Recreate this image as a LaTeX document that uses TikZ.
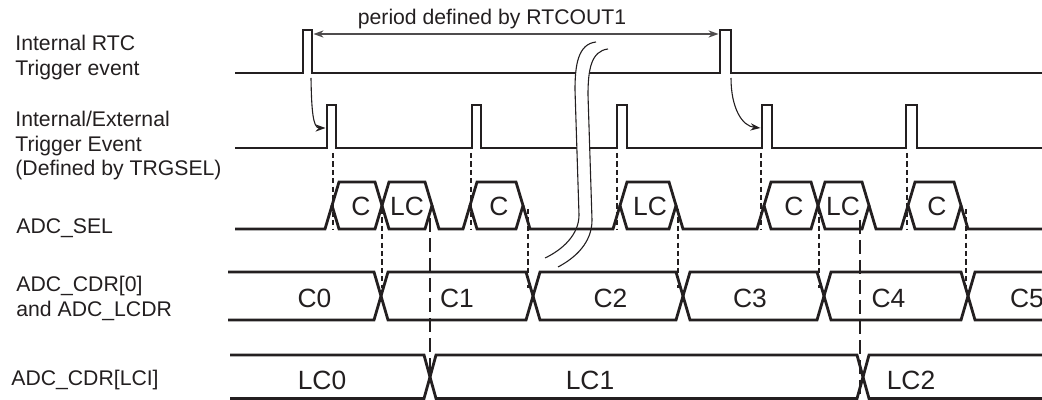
\documentclass[tikz,border=0pt]{standalone}
\usepackage{fontspec}
\setmainfont{Liberation Sans}
\usetikzlibrary{arrows.meta}
\definecolor{ink}{RGB}{35,31,32}

\begin{document}
\begin{tikzpicture}[
  x=0.5pt, y=-0.5pt,
  font=\fontsize{10.6}{12.3}\selectfont, text=ink,
  wave/.style={draw=ink, line width=1.4pt, line join=miter},
  guide/.style={draw=ink, line width=0.6pt, dash pattern=on 2.6pt off 1.6pt},
  longguide/.style={draw=ink, line width=0.6pt, dash pattern=on 7pt off 3pt},
  cause/.style={draw=ink, line width=0.55pt, -{Stealth[length=5pt, width=3.6pt]}},
  periodarrow/.style={draw=ink!80, line width=0.6pt,
    {Stealth[length=5pt, width=3.6pt]}-{Stealth[length=5pt, width=3.6pt]}},
  breakline/.style={draw=ink, line width=0.55pt},
  sig/.style={anchor=base west, align=left, inner sep=0pt},
  val/.style={font=\fontsize{13.2}{15}\selectfont, inner sep=0pt}
]
\useasboundingbox (0,0) rectangle (1042,400);

% --- signal names (base = last line) ---
\node[sig] (lblrtc) at (15,75.6)  {Internal RTC\\Trigger event};
\node[sig] (lbltrg) at (15,175.8) {Internal/External\\Trigger Event\\(Defined by TRGSEL)};
\node[sig] (lblsel) at (16,233.3) {ADC\_SEL};
\node[sig] (lblcdr) at (16,316.5) {ADC\_CDR[0]\\and ADC\_LCDR};
\node[sig] (lbllci) at (11,385)   {ADC\_CDR[LCI]};

% --- RTC trigger and trigger event pulses ---
\draw[wave] (235,73) -- (303,73) -- (303,30) -- (312,30) -- (312,73) -- (720,73)
  -- (720,30) -- (731,30) -- (731,73) -- (1042,73);
\draw[wave] (235,148) -- (327,148) -- (327,105) -- (336,105) -- (336,148)
  -- (472,148) -- (472,105) -- (481,105) -- (481,148)
  -- (617,148) -- (617,105) -- (627,105) -- (627,148)
  -- (762,148) -- (762,105) -- (772,105) -- (772,148)
  -- (906,148) -- (906,105) -- (917,105) -- (917,148) -- (1042,148);

% period between the two RTC pulses
\coordinate (rtcA) at (313.5,34);
\coordinate (rtcB) at (718.5,34);
\draw[periodarrow] (rtcA) -- (rtcB);
\node[anchor=base, inner sep=0pt] (per) at (492,25) {period defined by RTCOUT1};

% RTC pulse starts the next trigger
\coordinate (rtcfall1) at (311,78);
\coordinate (trgrise1) at (325.5,128);
\coordinate (rtcfall2) at (731,78);
\coordinate (trgrise2) at (760.5,128);
\draw[cause] (rtcfall1) .. controls (311.5,110) and (313,128) .. (trgrise1);
\draw[cause] (rtcfall2) .. controls (731,108) and (742,126) .. (trgrise2);

% --- time break ---
\fill[white] (596,42) .. controls (578,44) and (575,65) .. (575,90) -- (579,215)
  .. controls (579,235) and (562,250) .. (545,258) -- (558,267)
  .. controls (575,258) and (592,243) .. (592,220) -- (588,95)
  .. controls (588,70) and (591,51) .. (608,49) -- cycle;
\draw[breakline] (596,42) .. controls (578,44) and (575,65) .. (575,90) -- (579,215)
  .. controls (579,235) and (562,250) .. (545,258);
\draw[breakline] (608,49) .. controls (591,51) and (588,70) .. (588,95) -- (592,220)
  .. controls (592,243) and (575,258) .. (558,267);

% --- ADC_SEL ---
\draw[wave] (235,229) -- (325,229) -- (332,205.5);
\draw[wave] (332,205.5) -- (339,182) -- (375,182) -- (382,205.5) -- (375,229) -- (339,229) -- cycle;
\draw[wave] (382,205.5) -- (389,182) -- (425,182) -- (432,205.5) -- (425,229) -- (389,229) -- cycle;
\draw[wave] (432,205.5) -- (439,229) -- (463,229) -- (470,205.5);
\draw[wave] (470,205.5) -- (477,182) -- (516,182) -- (523,205.5) -- (516,229) -- (477,229) -- cycle;
\draw[wave] (523,205.5) -- (530,229) -- (613,229) -- (620,205.5);
\draw[wave] (620,205.5) -- (627,182) -- (669,182) -- (676,205.5) -- (669,229) -- (627,229) -- cycle;
\draw[wave] (676,205.5) -- (683,229) -- (757,229) -- (764,205.5);
\draw[wave] (764,205.5) -- (771,182) -- (811,182) -- (818,205.5) -- (811,229) -- (771,229) -- cycle;
\draw[wave] (818,205.5) -- (825,182) -- (862,182) -- (869,205.5) -- (862,229) -- (825,229) -- cycle;
\draw[wave] (869,205.5) -- (876,229) -- (901,229) -- (908,205.5);
\draw[wave] (908,205.5) -- (915,182) -- (954,182) -- (961,205.5) -- (954,229) -- (915,229) -- cycle;
\draw[wave] (961,205.5) -- (968,229) -- (1042,229);

\node[val] (sel1) at (361,206) {C};
\node[val] (sel2) at (407,206) {LC};
\node[val] (sel3) at (499,206) {C};
\node[val] (sel4) at (650,206) {LC};
\node[val] (sel5) at (794,206) {C};
\node[val] (sel6) at (843,206) {LC};
\node[val] (sel7) at (937,206) {C};

% --- ADC_CDR[0] and ADC_LCDR ---
\draw[wave] (228,272) -- (374,272) -- (381,296) -- (374,320) -- (228,320);
\draw[wave] (381,296) -- (388,272) -- (526,272) -- (533,296) -- (526,320) -- (388,320) -- cycle;
\draw[wave] (533,296) -- (540,272) -- (676,272) -- (683,296) -- (676,320) -- (540,320) -- cycle;
\draw[wave] (683,296) -- (690,272) -- (817,272) -- (824,296) -- (817,320) -- (690,320) -- cycle;
\draw[wave] (824,296) -- (831,272) -- (961,272) -- (968,296) -- (961,320) -- (831,320) -- cycle;
\draw[wave] (1042,272) -- (975,272) -- (968,296) -- (975,320) -- (1042,320);

\node[val] (cdr0) at (314.5,298) {C0};
\node[val] (cdr1) at (457,298) {C1};
\node[val] (cdr2) at (610.5,298) {C2};
\node[val] (cdr3) at (750,298) {C3};
\node[val] (cdr4) at (888.5,298) {C4};
\node[val] (cdr5) at (1027,298) {C5};

% --- ADC_CDR[LCI] ---
\draw[wave] (230,355) -- (424,355) -- (430,377) -- (424,398.5) -- (230,398.5);
\draw[wave] (430,377) -- (436,355) -- (857,355) -- (863,377) -- (857,398.5) -- (436,398.5) -- cycle;
\draw[wave] (1042,355) -- (869,355) -- (863,377) -- (869,398.5) -- (1042,398.5);

\node[val] (lci0) at (322,380) {LC0};
\node[val] (lci1) at (590,380) {LC1};
\node[val] (lci2) at (911,380) {LC2};

% --- timing guides ---
\draw[guide] (333,153) -- (333,229);
\draw[guide] (471,153) -- (471,229);
\draw[guide] (617,153) -- (617,229);
\draw[guide] (761,153) -- (761,229);
\draw[guide] (907,153) -- (907,229);

\draw[guide] (382,209) -- (382,288);
\draw[guide] (528,209) -- (528,288);
\draw[guide] (678,209) -- (678,288);
\draw[guide] (819,209) -- (819,288);
\draw[guide] (966,209) -- (966,288);

\draw[longguide] (430,218) -- (430,372);
\draw[longguide] (860,220) -- (860,398);

\end{tikzpicture}
\end{document}
